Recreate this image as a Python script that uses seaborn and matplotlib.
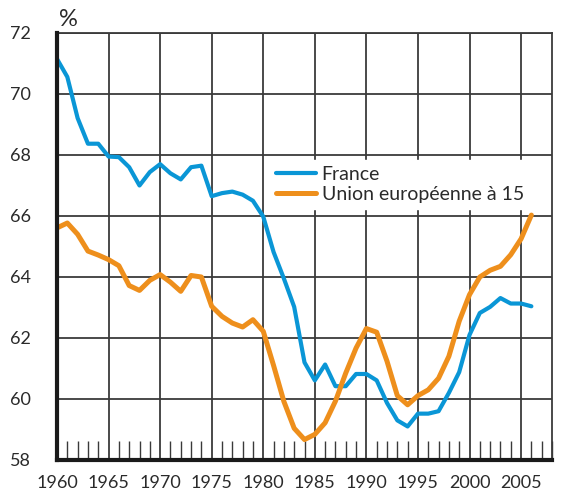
import numpy as np
import pandas as pd
import matplotlib
matplotlib.use("Agg")
import matplotlib.pyplot as plt
import seaborn as sns
from matplotlib.ticker import MultipleLocator
from matplotlib.lines import Line2D

years = list(range(1960, 2007))
france = [71.15, 70.56, 69.21, 68.37, 68.37, 67.95, 67.93, 67.6, 67.0, 67.44,
          67.7, 67.4, 67.2, 67.6, 67.65, 66.65, 66.75, 66.8, 66.7, 66.5,
          65.98, 64.82, 63.95, 63.02, 61.2, 60.61, 61.13, 60.42, 60.42, 60.82,
          60.82, 60.61, 59.87, 59.3, 59.1, 59.52, 59.52, 59.6, 60.2, 60.88,
          62.1, 62.82, 63.02, 63.31, 63.13, 63.13, 63.04]
ue15 = [65.61, 65.77, 65.4, 64.85, 64.72, 64.57, 64.37, 63.72, 63.56, 63.89,
        64.08, 63.83, 63.53, 64.05, 64.0, 63.04, 62.71, 62.49, 62.36, 62.6,
        62.22, 61.1, 59.92, 59.04, 58.67, 58.84, 59.22, 59.93, 60.85, 61.67,
        62.31, 62.19, 61.24, 60.11, 59.81, 60.11, 60.3, 60.68, 61.4, 62.55,
        63.42, 64.0, 64.22, 64.35, 64.73, 65.25, 66.03]
series_names = ["France", "Union européenne à 15"]
colors = ["#0A96D6", "#EE8F1C"]
xticks = list(range(1960, 2006, 5))
yticks = list(range(58, 73, 2))

sns.set_style("white")
plt.rcParams['font.family'] = ['Lato', 'DejaVu Sans']

df = pd.DataFrame({
    "année": years * 2,
    "valeur": france + ue15,
    "série": [series_names[0]] * len(years) + [series_names[1]] * len(years),
})

fig = plt.figure(figsize=(5.68, 4.96), dpi=100)
ax = fig.add_axes([57/568, 1 - 460/496, (552 - 57)/568, (460 - 33)/496])

sns.lineplot(data=df, x="année", y="valeur", hue="série", palette=colors,
             ax=ax, legend=False, zorder=5)
ax.lines[0].set_linewidth(3.0)
ax.lines[1].set_linewidth(3.6)
for ln in ax.lines:
    ln.set_solid_capstyle("round")
    ln.set_solid_joinstyle("round")

ax.set_xlim(1960, 2008)
ax.set_ylim(58, 72)
ax.set_xticks(xticks)
ax.set_yticks(yticks)
ax.xaxis.set_minor_locator(MultipleLocator(1))
ax.set_xlabel("")
ax.set_ylabel("")

grid_c = "#3a3a3a"
ax.grid(True, which="major", color=grid_c, linewidth=1.3)
ax.set_axisbelow(True)

for s in ["top", "right"]:
    ax.spines[s].set_color(grid_c)
    ax.spines[s].set_linewidth(1.3)
for s in ["left", "bottom"]:
    ax.spines[s].set_color("#1a1a1a")
    ax.spines[s].set_linewidth(3)
    ax.spines[s].set_zorder(6)

ax.tick_params(axis="x", which="minor", direction="in", length=14, width=1,
               color=grid_c, bottom=True)
ax.tick_params(axis="x", which="major", direction="in", length=14, width=1.3,
               color=grid_c, pad=11, labelsize=13, labelcolor="#2a2a2a")
ax.tick_params(axis="y", which="major", direction="out", length=8, width=1.3,
               color=grid_c, pad=11, labelsize=13, labelcolor="#2a2a2a")

fig.text(68/568, 1 - 20/496, "%", fontsize=17, color="#2a2a2a",
         ha="center", va="center")

handles = [Line2D([0], [0], color=colors[0], lw=3.0, solid_capstyle="round"),
           Line2D([0], [0], color=colors[1], lw=3.6, solid_capstyle="round")]
leg = ax.legend(handles, series_names, loc="upper left",
                bbox_to_anchor=((270 - 57)/495, 1 - (160 - 33)/427),
                frameon=True, fancybox=False, framealpha=1,
                edgecolor="white", facecolor="white", fontsize=14,
                handlelength=2.05, handletextpad=0.3, borderpad=0.3,
                labelspacing=0.15, borderaxespad=0)
for t in leg.get_texts():
    t.set_color("#2a2a2a")
leg.set_zorder(4)

fig.savefig("out.png", dpi=100)
